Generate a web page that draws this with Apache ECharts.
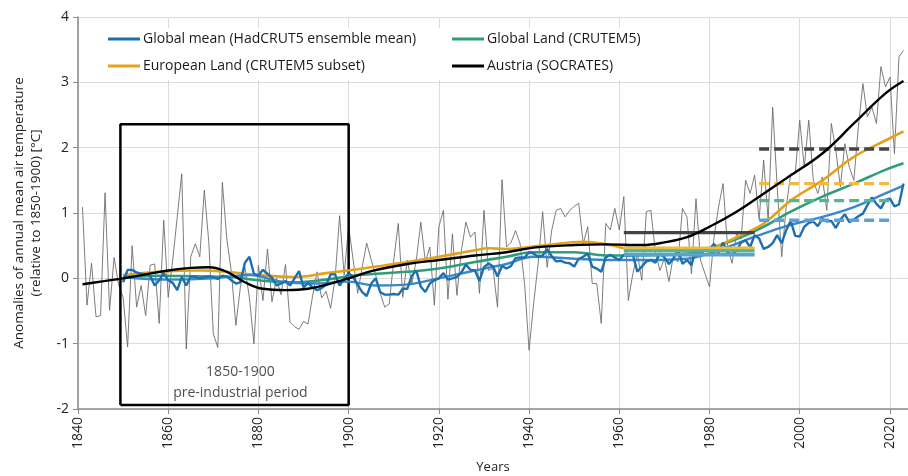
<!DOCTYPE html>
<html><head><meta charset="utf-8">
<script src="https://cdn.jsdelivr.net/npm/echarts@6/dist/echarts.min.js"></script>
<style>html,body{margin:0;padding:0;background:#fff}#c{width:908px;height:476px}</style>
</head><body><div id="c"></div>
<script>
// ---- data ----
const austriaStart = 1841;
const austriaAnnual = [
 1.09,-0.41,0.23,-0.59,-0.57,1.31,-0.49,0.32,-0.10,            // 1841-1849
 -0.29,-1.05,0.50,-0.44,-0.11,-0.57,0.20,0.22,-0.69,0.89,       // 1850s
 -0.29,0.28,0.94,1.60,-1.08,0.33,0.53,0.33,1.35,0.55,           // 1860s
 -0.85,-1.06,1.47,0.60,0.10,-0.72,-0.13,0.17,-0.30,-1.00,       // 1870s
 0.20,-0.34,0.45,-0.36,0.00,-0.25,0.21,-0.67,-0.74,-0.78,       // 1880s
 -0.66,-0.70,-0.27,0.10,-0.30,-0.20,-0.46,0.00,0.96,0.05,       // 1890s
 0.80,0.28,-0.23,0.17,0.54,0.28,0.05,-0.23,-0.44,-0.39,         // 1900s
 0.28,0.84,-0.29,0.28,-0.08,0.28,0.86,0.25,0.48,-0.41,          // 1910s
 0.79,1.04,-0.32,0.68,-0.26,0.43,0.86,0.63,0.71,-0.23,          // 1920s
 1.04,0.12,0.15,-0.44,1.51,0.48,0.55,0.73,0.53,-0.08,           // 1930s
 -1.10,-0.39,0.22,1.02,0.17,0.73,1.04,1.07,0.94,1.04,           // 1940s
 1.10,1.15,0.53,0.79,-0.08,-0.08,-0.69,0.84,0.74,1.07,          // 1950s
 0.74,1.25,-0.34,0.07,0.38,-0.03,1.02,1.04,0.40,0.12,           // 1960s
 0.30,-0.05,0.35,0.25,1.07,0.94,0.07,1.22,0.28,0.07,            // 1970s
 -0.13,0.63,1.09,1.45,0.48,0.23,0.69,0.60,1.50,1.30,            // 1980s
 1.58,0.90,1.81,0.89,2.62,1.40,0.33,1.09,1.60,1.60,             // 1990s
 2.42,1.70,2.42,1.50,1.30,1.55,1.04,2.37,1.96,1.40,             // 2000s
 2.06,1.70,1.50,2.32,2.98,2.47,2.62,2.37,3.24,2.93,             // 2010s
 3.08,1.91,3.39,3.49                                            // 2020-2023
];
const globalStart = 1850;
const globalAnnual = [
 -0.06,0.13,0.13,0.09,0.07,0.06,0.04,-0.11,-0.03,0.08,
 -0.03,-0.07,-0.18,0.02,-0.11,0.03,0.02,0.00,0.02,0.03,
 0.02,-0.01,0.04,0.03,-0.03,-0.08,-0.06,0.24,0.33,0.07,
 0.04,0.13,0.07,0.01,-0.11,-0.08,-0.04,-0.11,0.00,0.11,
 -0.14,-0.07,-0.14,-0.18,-0.15,-0.10,0.06,0.06,-0.11,-0.01,
 0.08,0.02,-0.10,-0.21,-0.27,-0.08,0.00,-0.21,-0.25,-0.25,
 -0.24,-0.25,-0.16,-0.16,0.04,0.12,-0.13,-0.21,-0.08,-0.03,
 0.00,0.08,-0.02,0.00,0.02,0.09,0.21,0.13,0.12,-0.04,
 0.17,0.23,0.18,0.03,0.19,0.15,0.19,0.31,0.32,0.32,
 0.40,0.38,0.33,0.35,0.45,0.34,0.26,0.27,0.24,0.23,
 0.18,0.30,0.33,0.38,0.18,0.15,0.10,0.32,0.36,0.32,
 0.28,0.36,0.34,0.36,0.10,0.18,0.26,0.28,0.24,0.38,
 0.32,0.22,0.30,0.45,0.22,0.28,0.20,0.46,0.36,0.45,
 0.45,0.53,0.39,0.55,0.39,0.37,0.42,0.55,0.58,0.48,
 0.66,0.61,0.45,0.48,0.54,0.66,0.54,0.74,0.88,0.65,
 0.64,0.79,0.85,0.87,0.80,0.91,0.87,0.88,0.77,0.90,
 0.98,0.86,0.90,0.95,0.99,1.12,1.24,1.14,1.07,1.20,
 1.22,1.10,1.13,1.45
];
const austriaSmoothYears = [1841,1845,1850,1855,1860,1865,1869,1873,1877,1881,1886,1891,1896,1900,1905,1913,1920,1928,1935,1941,1950,1957,1965,1970,1975,1980,1986,1991,1997,2005,2012,2019,2023];
const austriaSmooth      = [-0.09,-0.05,0.00,0.06,0.12,0.16,0.17,0.10,-0.06,-0.16,-0.18,-0.16,-0.08,0.00,0.11,0.22,0.28,0.35,0.40,0.47,0.51,0.52,0.51,0.55,0.63,0.79,1.02,1.25,1.53,1.91,2.37,2.83,3.02];
const europeSmoothYears = [1850,1858,1867,1873,1880,1888,1895,1902,1906,1913,1920,1928,1931,1935,1943,1952,1958,1962,1968,1975,1981,1986,1992,1998,2005,2012,2019,2023];
const europeSmooth      = [0.05,0.10,0.12,0.10,0.05,0.02,0.08,0.14,0.18,0.25,0.33,0.43,0.46,0.45,0.50,0.56,0.51,0.45,0.43,0.43,0.48,0.63,0.84,1.19,1.50,1.86,2.11,2.25];
const landSmoothYears = [1850,1858,1866,1874,1880,1888,1895,1902,1906,1913,1920,1928,1935,1941,1950,1957,1965,1975,1981,1986,1992,1998,2005,2012,2019,2023];
const landSmooth      = [0.03,0.04,0.03,0.02,-0.03,-0.06,-0.02,0.05,0.07,0.10,0.15,0.25,0.33,0.40,0.40,0.35,0.35,0.38,0.48,0.60,0.79,1.02,1.25,1.45,1.66,1.76];
const globalSmoothYears = [1850,1860,1870,1878,1885,1892,1900,1906,1912,1920,1928,1935,1941,1950,1958,1965,1975,1982,1991,1997,2005,2012,2019,2023];
const globalSmooth      = [0.02,-0.02,0.00,0.05,-0.05,-0.08,-0.05,-0.11,-0.10,0.00,0.12,0.22,0.33,0.30,0.28,0.28,0.30,0.43,0.66,0.80,0.94,1.09,1.30,1.42];
const refPeriod1 = [1961, 1990];
const refPeriod2 = [1991, 2020];
// means: [Austria, European Land, Global Land, Global mean]
const mean6190 = [0.70, 0.46, 0.42, 0.36];
const mean9120 = [1.98, 1.45, 1.19, 0.89];
const boxYears = [1849.4, 1900];
const boxRange = [-1.94, 2.36];
const boxLabelPos = [1876, -1.6];
const boxLabel = '1850-1900\npre-industrial period';
const yTicks = [-2, 4, 1];
const xTicks = [1840, 2024, 20];

const names = {
  glob: 'Global mean (HadCRUT5 ensemble mean)',
  land: 'Global Land (CRUTEM5)',
  eur: 'European Land (CRUTEM5 subset)',
  aut: 'Austria (SOCRATES)'
};
const col = { glob:'#1d70b0', globLight:'#3b88c8', land:'#2f9e78', eur:'#e3a21a', aut:'#000000',
  hAut:'#444444', hEur:'#f0b940', hLand:'#55b590', hGlob:'#5f9fd6', thin:'#666666' };

const seq = (start, arr) => arr.map((v,i)=>[start+i, v]);
const pairs = (xs, ys) => xs.map((x,i)=>[x, ys[i]]);
const hline = (name, p, v, color, dashed) => ({
  name, type:'line', data:[[p[0], v],[p[1], v]], symbol:'none', silent:true,
  lineStyle:{color, width:3.4, type: dashed ? [10,5] : 'solid'}, z:5
});

const series = [
  { name:'Austria annual', type:'line', data:seq(austriaStart, austriaAnnual), symbol:'none',
    lineStyle:{color:col.thin, width:0.85}, z:1 },
  { name:'box', type:'line', data:[[boxYears[0],boxRange[0]],[boxYears[0],boxRange[1]],[boxYears[1],boxRange[1]],[boxYears[1],boxRange[0]],[boxYears[0],boxRange[0]]],
    symbol:'none', lineStyle:{color:'#000', width:2.5}, z:3 },
  { name:'boxlabel', type:'scatter', data:[boxLabelPos], symbolSize:0, silent:true,
    label:{show:true, formatter:boxLabel, position:'inside', color:'#222', fontSize:14, lineHeight:21, align:'center'} },
  { name:names.land, type:'line', data:pairs(landSmoothYears, landSmooth), smooth:0.4, symbol:'none',
    lineStyle:{color:col.land, width:2.6}, itemStyle:{color:col.land}, z:3 },
  { name:names.eur, type:'line', data:pairs(europeSmoothYears, europeSmooth), smooth:0.4, symbol:'none',
    lineStyle:{color:col.eur, width:2.6}, itemStyle:{color:col.eur}, z:3 },
  { name:'Global mean smoothed', type:'line', data:pairs(globalSmoothYears, globalSmooth), smooth:0.4, symbol:'none',
    lineStyle:{color:col.globLight, width:2.4}, z:3 },
  { name:names.glob, type:'line', data:seq(globalStart, globalAnnual), symbol:'none',
    lineStyle:{color:col.glob, width:2.4}, itemStyle:{color:col.glob}, z:4 },
  hline('h1', refPeriod1, mean6190[0], col.hAut, false),
  hline('h2', refPeriod1, mean6190[1], col.hEur, false),
  hline('h3', refPeriod1, mean6190[2], col.hLand, false),
  hline('h4', refPeriod1, mean6190[3], col.hGlob, false),
  hline('d1', refPeriod2, mean9120[0], col.hAut, true),
  hline('d2', refPeriod2, mean9120[1], col.hEur, true),
  hline('d3', refPeriod2, mean9120[2], col.hLand, true),
  hline('d4', refPeriod2, mean9120[3], col.hGlob, true),
  { name:names.aut, type:'line', data:pairs(austriaSmoothYears, austriaSmooth), smooth:0.4, symbol:'none',
    lineStyle:{color:col.aut, width:2.4}, itemStyle:{color:col.aut}, z:6 }
];

const legendBase = { orient:'horizontal', icon:'rect', itemWidth:32, itemHeight:3, itemGap:0, padding:0,
  selectedMode:false, textStyle:{fontSize:14, color:'#1a1a1a', padding:[0,0,0,-2]} };
const chart = echarts.init(document.getElementById('c'), null, {renderer:'canvas'});
chart.setOption({
  animation:false,
  backgroundColor:'#fff',
  textStyle:{fontFamily:'Open Sans'},
  grid:{left:78, right:0, top:17, bottom:67, containLabel:false, outerBoundsMode:'none'},
  graphic:[{type:'rect', shape:{x:100, y:28, width:560, height:52}, style:{fill:'#fff'}, z:1, silent:true}],
  legend:[
    Object.assign({}, legendBase, {left:108, top:32, data:[names.glob]}),
    Object.assign({}, legendBase, {left:452, top:32, data:[names.land]}),
    Object.assign({}, legendBase, {left:108, top:59, data:[names.eur]}),
    Object.assign({}, legendBase, {left:452, top:59, data:[names.aut]})
  ],
  xAxis:{ type:'value', min:xTicks[0], max:xTicks[1], interval:xTicks[2],
    name:'Years', nameLocation:'middle', nameGap:52, nameTextStyle:{fontSize:13, color:'#222'},
    axisLine:{show:true, onZero:false, lineStyle:{color:'#8c8c8c', width:1.5}},
    axisTick:{show:true, length:5, lineStyle:{color:'#8c8c8c'}},
    axisLabel:{rotate:90, fontSize:14, color:'#222', margin:8, showMaxLabel:false, formatter:v=>String(v)},
    splitLine:{show:true, lineStyle:{color:'#dcdcdc', width:1}} },
  yAxis:{ type:'value', min:yTicks[0], max:yTicks[1], interval:yTicks[2],
    name:'Anomalies of annual mean air temperature\n(relative to 1850-1900) [°C]',
    nameLocation:'middle', nameRotate:90, nameGap:33,
    nameTextStyle:{fontSize:13.5, color:'#222', lineHeight:17},
    axisLine:{show:true, onZero:false, lineStyle:{color:'#8c8c8c', width:1.5}},
    axisTick:{show:true, length:5, lineStyle:{color:'#8c8c8c'}},
    axisLabel:{fontSize:14, color:'#222', margin:9},
    splitLine:{show:true, lineStyle:{color:'#dcdcdc', width:1}} },
  series
});
</script></body></html>
